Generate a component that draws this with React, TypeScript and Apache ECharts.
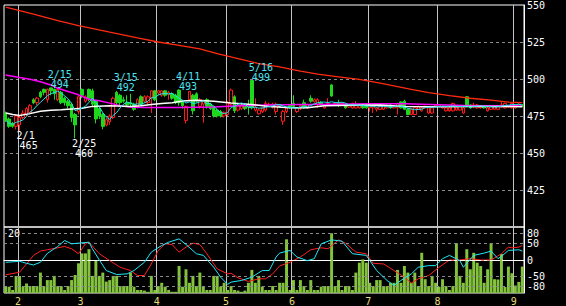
import React, { useEffect, useRef } from 'react';
import * as echarts from 'echarts';

// Trading days (2022, Tokyo calendar)
const dates: string[] = [
  '1/26', '1/27', '1/28', '1/31',
  '2/1', '2/2', '2/3', '2/4', '2/7', '2/8', '2/9', '2/10', '2/14', '2/15', '2/16', '2/17', '2/18', '2/21', '2/22', '2/24', '2/25', '2/28',
  '3/1', '3/2', '3/3', '3/4', '3/7', '3/8', '3/9', '3/10', '3/11', '3/14', '3/15', '3/16', '3/17', '3/18', '3/22', '3/23', '3/24', '3/25', '3/28', '3/29', '3/30', '3/31',
  '4/1', '4/4', '4/5', '4/6', '4/7', '4/8', '4/11', '4/12', '4/13', '4/14', '4/15', '4/18', '4/19', '4/20', '4/21', '4/22', '4/25', '4/26', '4/27', '4/28',
  '5/2', '5/6', '5/9', '5/10', '5/11', '5/12', '5/13', '5/16', '5/17', '5/18', '5/19', '5/20', '5/23', '5/24', '5/25', '5/26', '5/27', '5/30', '5/31',
  '6/1', '6/2', '6/3', '6/6', '6/7', '6/8', '6/9', '6/10', '6/13', '6/14', '6/15', '6/16', '6/17', '6/20', '6/21', '6/22', '6/23', '6/24', '6/27', '6/28', '6/29', '6/30',
  '7/1', '7/4', '7/5', '7/6', '7/7', '7/8', '7/11', '7/12', '7/13', '7/14', '7/15', '7/19', '7/20', '7/21', '7/22', '7/25', '7/26', '7/27', '7/28', '7/29',
  '8/1', '8/2', '8/3', '8/4', '8/5', '8/8', '8/9', '8/10', '8/12', '8/15', '8/16', '8/17', '8/18', '8/19', '8/22', '8/23', '8/24', '8/25', '8/26', '8/29', '8/30', '8/31',
  '9/1', '9/2', '9/5',
];

// [open, close, low, high]
const ohlc: number[][] = [
  [477, 472, 471, 478], [473, 468, 467, 474], [470, 468, 467, 471], [468, 475, 466, 476],
  // Feb
  [469, 474, 465, 475], [474, 477, 473, 479], [476, 480, 475, 481], [477, 482, 476, 483], [486, 484, 483, 487],
  [484, 487, 482, 488], [491, 488, 487, 492], [493, 491, 489, 493.5], [486, 493, 484, 493.5], [494, 492, 489, 494],
  [493, 490, 486, 493.5], [486, 493, 485, 493.5], [491, 484, 483, 492], [487, 484, 482, 488], [485, 482, 480, 486],
  [483, 474, 471, 484], [476, 469, 460, 477], [478, 488, 476, 489],
  // Mar
  [493, 489, 487, 493.5], [485, 488, 484, 489], [493, 487, 485, 493.5], [492, 483, 481, 493.5], [485, 473, 470, 486],
  [480, 475, 473, 481], [476, 468, 466, 477], [469, 472.5, 468, 473.5], [471, 475, 469, 476], [474, 487, 473, 488],
  [491, 484, 483, 492], [489, 484, 482, 490], [486, 485, 484, 488], [484, 482.5, 481.5, 489], [484, 483, 481, 490],
  [483, 479.5, 478.5, 484], [481, 486, 480, 487], [488, 483, 482, 489], [485, 488, 484, 489], [484, 488, 483, 489],
  [487, 492, 477, 492.5], [492, 486, 485, 492.5],
  // Apr
  [490.5, 492, 489, 492.5], [489, 492, 488, 492.5], [492, 489, 488, 492.5], [489.5, 491, 486, 492], [490, 487, 486, 491],
  [489, 484, 483, 490], [492.5, 484, 482, 493], [485, 482, 480, 486], [472, 481.5, 470, 482], [486, 491.5, 485, 492],
  [489, 478.5, 476, 490], [490, 485, 484, 491], [481.5, 486, 480, 487], [483, 485, 470.5, 486], [486, 481.5, 480, 487],
  [483, 480, 479, 484], [481.5, 475, 474, 482], [479, 475, 474, 480], [478, 475, 474, 479], [475, 477.5, 474, 478],
  // May
  [476, 484, 475, 485], [483, 492.5, 482, 493.5], [488, 478.5, 477, 489], [479, 482, 478, 483], [480, 482, 479, 483],
  [482, 480, 479, 483], [482, 481, 476, 486], [499, 480.5, 479.5, 499], [479, 481, 478, 487], [476.5, 479, 476, 480],
  [478, 480.5, 477, 481], [479, 483.5, 478, 485], [482, 483, 481, 484], [481, 483, 480, 484], [478, 483, 476, 484],
  [482, 481.5, 481, 482.5], [471.5, 478, 469, 479], [478, 480.5, 477, 481], [482, 481, 480, 482.5],
  // Jun
  [483.5, 481.5, 481, 489], [478, 480.5, 477, 481], [480, 482, 479, 483], [484, 480.5, 480, 486], [480.5, 482.5, 480, 483],
  [487, 485, 484, 489], [484.5, 486, 484, 487], [482.5, 486, 480.5, 487], [484, 482.5, 482, 485], [480.5, 482.5, 480, 483],
  [482.5, 483.5, 482, 487], [496, 488.5, 488, 496.5], [482.5, 483.5, 482, 484], [483.5, 482.5, 481, 486], [482.5, 483.5, 482, 484],
  [482.5, 480.5, 480, 483], [481, 482.5, 480.5, 483], [480.5, 483.5, 480, 484], [480.5, 482, 480, 485], [480.5, 482.5, 480, 483],
  [482.5, 480.5, 480, 483], [482, 480.5, 480, 482.5],
  // Jul
  [480.5, 482.5, 478, 483], [480.5, 481.5, 477, 482], [479.5, 480.5, 478, 481], [479.5, 481.5, 479, 482], [479.5, 481.5, 479, 482],
  [480.5, 481.5, 480, 482], [482.5, 480.5, 480, 483], [480.5, 481.5, 480, 482], [480.5, 483.5, 476, 484], [484.5, 480.5, 480, 485],
  [485, 479.5, 479, 486], [479.5, 476, 475.5, 480], [476, 479.5, 475.5, 480], [476, 480.5, 475.5, 481], [479.5, 481.5, 479, 482],
  [478.5, 480.5, 478, 481], [480.5, 481.5, 480, 482], [477, 480.5, 476.5, 481], [477, 480.5, 476.5, 481], [481.5, 482.5, 481, 483],
  // Aug
  [481.5, 482.5, 481, 483], [480.5, 481.5, 480, 482], [478.5, 480.5, 478, 481], [478.5, 480.5, 478, 481], [478.5, 483.5, 478, 484],
  [479, 481, 478.5, 481.5], [479, 481.5, 478.5, 482], [477, 480.5, 476.5, 481], [488, 482, 481.5, 488.5], [482.5, 480.5, 480, 483],
  [481, 482.5, 480.5, 484], [480.5, 482.5, 480, 483], [480.5, 481.5, 480, 482], [481.5, 480.5, 480, 482], [478.5, 480.5, 478, 481],
  [479.5, 481.5, 479, 482], [479.5, 481.5, 479, 482], [479.5, 482, 479, 482.5], [481, 482.5, 480.5, 485], [480.5, 483.5, 480, 484],
  [481, 482, 480.5, 482.5], [480.5, 483.5, 480, 484],
  // Sep
  [480.5, 482.5, 480, 483], [481.5, 483, 481, 483.5], [482.5, 481.5, 481, 483],
];

const volume: number[] = [
  2.1, 2.1, 1, 5.7,
  5.7, 2.1, 3.2, 2.3, 2.3, 2.3, 6.8, 2.3, 4.3, 4.3, 5.7, 2.3, 2.3, 1, 2.3, 4.3, 6, 9.9,
  13.2, 13.2, 14.6, 5.7, 11, 5.7, 6.8, 3.8, 4.3, 5.7, 5.7, 2.3, 2.3, 2.3, 6.8, 2.1, 1, 1, 0.8, 0.4, 5.7, 1,
  2.3, 3.4, 2.1, 1, 0.4, 0.4, 9, 2.1, 7.9, 3.4, 5.7, 2.3, 6.8, 2.1, 1, 1, 5.7, 5.7, 2.1, 3.4,
  1, 2.3, 1, 0.8, 0.4, 0.8, 3.4, 7.7, 3.4, 5.7, 2.1, 1, 1, 2.3, 1, 3.4, 3.4, 17.9, 1,
  4.3, 1, 4.3, 2.3, 1, 4.3, 1, 1, 2.1, 2.3, 2.3, 19.9, 2.3, 4.3, 1, 2.3, 2.3, 1, 6.8, 10.1, 11.2, 10.1,
  3.4, 2.3, 4.3, 4.3, 2.3, 2.3, 3.4, 3.4, 7.7, 3.4, 9, 6.8, 3.4, 6.8, 2.3, 13.4, 4.6, 2.3, 5.7, 3.4,
  2.1, 4.6, 2.3, 1, 2.3, 16.6, 5.7, 3.4, 14.6, 7.9, 13.4, 10.1, 9, 3.4, 7.9, 16.6, 4.6, 4.5, 13, 2, 8.8, 6.6,
  2.5, 3.7, 8.8,
];

// Moving averages: [day index, value]
const maLong: number[][] = [
  [0, 548.5], [8, 543.9], [15, 539.4], [21, 536.1], [30, 531.6], [38, 527.8], [44, 525], [50, 522.7], [56, 520.3],
  [61, 517.1], [67, 513.8], [73, 510.4], [79, 508.2], [85, 505.3], [90, 503.3], [96, 501.5], [102, 499.7], [108, 497.2],
  [117, 493], [122, 490.8], [128, 488.8], [134, 487], [140, 485.7], [145, 484.4], [149, 484],
];
const maMid: number[][] = [
  [0, 502.7], [4, 501], [7, 499.8], [10, 498.2], [13, 496], [15, 493.7], [18, 491.5], [21, 489.3], [24, 486.3],
  [27, 485.3], [30, 483.7], [33, 482], [36, 481], [40, 480.8], [50, 480.8], [60, 481], [66, 481.8], [75, 482.4],
  [85, 482.8], [95, 483], [105, 483.2], [115, 483.2], [125, 482.6], [135, 482], [149, 481.8],
];
const ma25: number[][] = [
  [0, 477], [2, 476], [4, 475.4], [7, 476.6], [10, 478.2], [13, 478.9], [16, 479.3], [19, 479.8], [22, 480.2],
  [25, 481.5], [30, 482], [36, 481.5], [39, 482], [42, 482.7], [45, 483.4], [48, 484], [51, 485.2], [55, 485.6],
  [60, 484.9], [65, 483.8], [70, 482.9], [76, 481.5], [82, 480.6], [87, 480.6], [92, 482], [100, 482.2], [108, 482.4],
  [115, 481.4], [125, 481.2], [135, 481.5], [149, 481.3],
];

// RCI-style oscillators in the lower panel: [day index, value]
const rciFast: number[][] = [
  [0, -7], [4, -4], [6, -10], [8, -15], [10, -7], [12, 20], [15, 41], [17, 59], [19, 49], [21, 51], [24, 54], [25, 34],
  [27, 0], [29, -32], [32, -44], [35, -42], [37, -32], [40, -7], [42, 24], [45, 44], [47, 54], [50, 64], [52, 47],
  [55, 19], [57, 14], [60, -22], [62, -52], [64, -74], [65, -67], [68, -62], [71, -52], [74, -32], [76, -32], [78, 9],
  [79, 21], [82, 29], [84, 9], [87, -2], [89, 4], [91, 49], [94, 61], [97, 57], [100, 19], [104, 14], [107, -32],
  [110, -62], [112, -77], [114, -62], [117, -42], [119, -22], [122, -17], [124, -17], [126, 4], [128, 14], [131, -2],
  [132, -22], [135, 14], [138, 21], [140, 27], [142, 4], [143, 11], [145, 29], [148, 31], [149, 27],
];
const rciSlow: number[][] = [
  [0, -45], [4, -37], [6, -12], [8, 14], [10, 27], [12, 31], [15, 37], [17, 41], [19, 34], [21, 19], [23, 49], [24, 54],
  [27, 19], [30, -2], [33, -22], [36, -32], [38, -47], [40, -47], [42, -12], [44, 29], [46, 49], [48, 47], [50, 24],
  [52, 39], [54, 51], [56, 47], [58, 19], [61, -27], [64, -42], [65, -40], [67, -54], [70, -65], [73, -57], [75, -57],
  [77, -42], [79, -18], [82, -7], [85, 9], [88, 31], [91, 37], [93, 34], [96, 61], [98, 51], [101, 24], [104, 19],
  [106, -10], [109, -12], [112, -32], [115, -52], [117, -70], [119, -57], [122, -47], [125, -22], [128, 0], [131, 0],
  [134, 4], [137, 0], [140, 0], [143, 19], [145, 39], [146, 37], [148, 39], [149, 44],
];

const highMarks = [
  { date: '2/15', value: 494 },
  { date: '3/15', value: 492 },
  { date: '4/11', value: 493 },
  { date: '5/16', value: 499 },
];
const lowMarks = [
  { date: '2/1', value: 465 },
  { date: '2/25', value: 460 },
];

const priceLabels = [550, 525, 500, 475, 450, 425];
const rciLevels = [80, 50, 0, -50, -80];
const volumeLabel = 20;

const FONT = 'DejaVu Sans Mono';

function buildOption() {
  const closes = ohlc.map((d) => d[1]);
  const ma5 = closes.map((_, i) => {
    const w = closes.slice(Math.max(0, i - 4), i + 1);
    return +(w.reduce((a, b) => a + b, 0) / w.length).toFixed(2);
  });
  const month = (d: string) => d.split('/')[0];
  const isMonthStart = (i: number) => i > 0 && month(dates[i]) !== month(dates[i - 1]);

  const mkRich = (color: string) => ({
    d: { color, fontSize: 10, fontFamily: FONT, lineHeight: 10 },
    v: { color, fontSize: 10, fontFamily: FONT, lineHeight: 10, padding: [0, 0, 0, 3] },
  });
  const cyanTxt = '#4fe3f2';

  const markData = [
    ...highMarks.map((m) => ({
      coord: [m.date, m.value],
      label: {
        show: true,
        position: [-2.5, 2.5],
        align: 'left',
        verticalAlign: 'bottom',
        formatter: `{d|${m.date}}\n{v|${m.value}}`,
        rich: mkRich(cyanTxt),
      },
    })),
    ...lowMarks.map((m) => ({
      coord: [m.date, m.value],
      label: {
        show: true,
        position: [-2.5, 0.5],
        align: 'left',
        verticalAlign: 'top',
        formatter: `{d|${m.date}}\n{v|${m.value}}`,
        rich: mkRich('#ffffff'),
      },
    })),
  ];

  const vLine = { color: '#c4c4c4', width: 1, type: 'solid' };

  return {
    animation: false,
    backgroundColor: '#000',
    grid: [
      { left: 4, top: 2, width: 520, height: 225, show: true, borderColor: '#fff', borderWidth: 1, backgroundColor: 'transparent' },
      { left: 4, top: 227, width: 520, height: 66, show: true, borderColor: '#fff', borderWidth: 1, backgroundColor: 'transparent' },
    ],
    xAxis: [
      {
        type: 'category', gridIndex: 0, data: dates, boundaryGap: true,
        axisLine: { show: false }, axisTick: { show: false }, axisLabel: { show: false },
        splitLine: { show: true, interval: (i: number) => isMonthStart(i), lineStyle: vLine },
      },
      {
        type: 'category', gridIndex: 1, data: dates, boundaryGap: true,
        axisLine: { show: true, lineStyle: { color: '#fff' } }, axisTick: { show: false },
        axisLabel: {
          show: true, interval: (i: number) => isMonthStart(i), formatter: (v: string) => month(v),
          color: '#e8dc78', fontSize: 10, fontFamily: FONT, margin: 3, padding: [0, 3, 0, 0],
        },
        splitLine: { show: true, interval: (i: number) => isMonthStart(i), lineStyle: vLine },
      },
    ],
    yAxis: [
      {
        type: 'value', gridIndex: 0, position: 'right', min: 400, max: 550, interval: 25,
        axisLine: { show: true, lineStyle: { color: '#fff' } }, axisTick: { show: false },
        axisLabel: {
          color: '#fff', fontSize: 10, fontFamily: FONT, margin: 3, padding: [5, 0, 0, 0],
          formatter: (v: number) => (priceLabels.includes(v) ? String(v) : ''),
        },
        splitLine: { show: true, showMinLine: false, showMaxLine: false, lineStyle: { color: '#8a8a8a', type: [3, 3], width: 1 } },
      },
      {
        type: 'value', gridIndex: 1, position: 'right', min: -100, max: 100, interval: 10,
        axisLine: { show: true, lineStyle: { color: '#fff' } }, axisTick: { show: false },
        axisLabel: {
          color: '#fff', fontSize: 10, fontFamily: FONT, margin: 3,
          formatter: (v: number) => (rciLevels.includes(v) ? String(v) : ''),
        },
        splitLine: { show: false },
      },
      {
        type: 'value', gridIndex: 1, position: 'left', min: 0, max: 22, interval: 20,
        axisLine: { show: false }, axisTick: { show: false },
        axisLabel: {
          inside: true, color: '#fff', fontSize: 10, fontFamily: FONT, margin: 4,
          formatter: (v: number) => (v === volumeLabel ? String(v) : ''),
        },
        splitLine: { show: false },
      },
    ],
    series: [
      {
        type: 'candlestick', xAxisIndex: 0, yAxisIndex: 0, data: ohlc, barWidth: 3,
        itemStyle: { color: '#000', color0: '#1ed81e', borderColor: '#ff1a1a', borderColor0: '#1ed81e', borderWidth: 1 },
        markPoint: {
          symbol: 'rect', symbolSize: 1, silent: true,
          itemStyle: { color: 'rgba(0,0,0,0)' },
          data: markData,
        },
      },
      { type: 'line', xAxisIndex: 0, yAxisIndex: 0, data: maLong, showSymbol: false, symbol: 'none', lineStyle: { color: '#ff2a10', width: 1.3 }, z: 3 },
      { type: 'line', xAxisIndex: 0, yAxisIndex: 0, data: maMid, showSymbol: false, symbol: 'none', lineStyle: { color: '#ff00ff', width: 1.5 }, z: 3 },
      { type: 'line', xAxisIndex: 0, yAxisIndex: 0, data: ma25, showSymbol: false, symbol: 'none', lineStyle: { color: '#ffffff', width: 1.5 }, z: 3 },
      { type: 'line', xAxisIndex: 0, yAxisIndex: 0, data: ma5, showSymbol: false, symbol: 'none', lineStyle: { color: '#22e6f0', width: 1 }, z: 4 },
      {
        type: 'bar', xAxisIndex: 1, yAxisIndex: 2, data: volume, barCategoryGap: '15%',
        itemStyle: { color: '#84c43c' },
        markLine: {
          silent: true, symbol: ['none', 'none'], label: { show: false },
          data: rciLevels.map((v) => ({
            yAxis: (v + 100) * 0.11,
            lineStyle: { color: v === 0 ? '#ffffff' : '#8a8a8a', type: [3, 3], width: 1 },
          })),
        },
      },
      { type: 'line', xAxisIndex: 1, yAxisIndex: 1, data: rciSlow, showSymbol: false, symbol: 'none', lineStyle: { color: '#ff2020', width: 1 }, z: 4 },
      { type: 'line', xAxisIndex: 1, yAxisIndex: 1, data: rciFast, showSymbol: false, symbol: 'none', lineStyle: { color: '#20e8f8', width: 1 }, z: 5 },
    ],
  };
}

export default function App() {
  const ref = useRef<HTMLDivElement>(null);
  useEffect(() => {
    if (!ref.current) return;
    const chart = echarts.init(ref.current, undefined, { renderer: 'svg' });
    chart.setOption(buildOption() as any);
    return () => chart.dispose();
  }, []);
  return (
    <div
      ref={ref}
      style={{ position: 'fixed', left: 0, top: 0, width: 566, height: 306, background: '#000' }}
    />
  );
}
